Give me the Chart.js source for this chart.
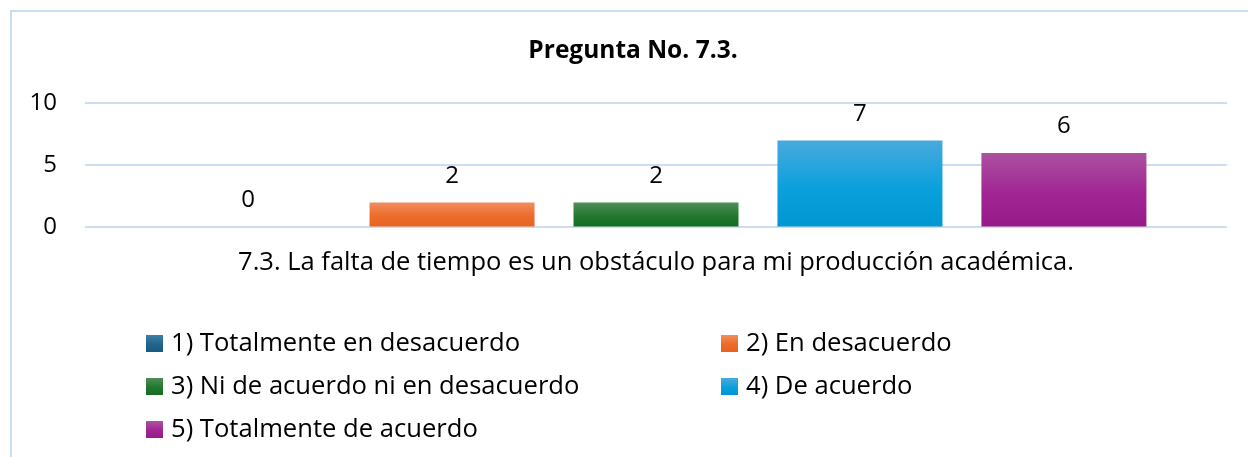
<!DOCTYPE html>
<html lang="es">
<head>
<meta charset="utf-8">
<title>Pregunta No. 7.3.</title>
<script src="https://cdn.jsdelivr.net/npm/chart.js@4.4.1/dist/chart.umd.min.js"></script>
<style>
  html, body { margin: 0; padding: 0; background: #fff; overflow: hidden; }
  body { width: 1248px; height: 457px; position: relative; }
  .marco   { position: absolute; left: 10px; top: 10px; width: 1300px; height: 500px; border: 2px solid #CADCF1; }
  .grafico { position: absolute; left: 12px; top: 12px; width: 1242px; height: 445px; }
</style>
</head>
<body>
<div class="marco"></div>
<div class="grafico"><canvas id="graficoPregunta"></canvas></div>
<script>
// === DATOS =================================================================
const titulo     = 'Pregunta No. 7.3.';
const categorias = ['7.3. La falta de tiempo es un obstáculo para mi producción académica.'];
const respuestas = [
  '1) Totalmente en desacuerdo',
  '2) En desacuerdo',
  '3) Ni de acuerdo ni en desacuerdo',
  '4) De acuerdo',
  '5) Totalmente de acuerdo'
];
const valores = [0, 2, 2, 7, 6];
const ticksY  = [0, 5, 10];

// colores tipo Excel (degradado: arriba / medio / abajo)
const coloresArriba = ['#3C7FA8', '#F08D5E', '#4E8E56', '#48AADE', '#AB52A0'];
const coloresMedio  = ['#21648C', '#EC6B2A', '#23772F', '#0AA0DC', '#A12593'];
const coloresAbajo  = ['#1A5A80', '#E8621F', '#146C21', '#0096D1', '#961B88'];

// === HELPERS ===============================================================
function degradado(ctx, i, yTop, yBase) {
  const g = ctx.createLinearGradient(0, yTop, 0, yBase);
  g.addColorStop(0, coloresArriba[i]);
  g.addColorStop(0.55, coloresMedio[i]);
  g.addColorStop(1, coloresAbajo[i]);
  return g;
}

function colorBarra(context, i) {
  const { chart } = context;
  if (!chart.chartArea || context.raw === undefined) return coloresMedio[i];
  const y = chart.scales.y;
  const yBase = y.getPixelForValue(0);
  const yTop  = y.getPixelForValue(context.raw);
  if (Math.abs(yBase - yTop) < 1) return coloresMedio[i];
  return degradado(chart.ctx, i, yTop, yBase);
}

// etiquetas de valor encima de cada barra
const etiquetasValor = {
  id: 'etiquetasValor',
  afterDatasetsDraw(chart) {
    const { ctx } = chart;
    ctx.save();
    ctx.font = '24px "Open Sans"';
    ctx.fillStyle = '#000';
    ctx.textAlign = 'center';
    ctx.textBaseline = 'alphabetic';
    chart.data.datasets.forEach((ds, i) => {
      const barra = chart.getDatasetMeta(i).data[0];
      ctx.fillText(String(ds.data[0]), barra.x, barra.y - 20);
    });
    ctx.restore();
  }
};

// leyenda en dos columnas (como en Excel)
const leyendaColumnas = {
  id: 'leyendaColumnas',
  afterDraw(chart) {
    const { ctx } = chart;
    const colX  = [134, 709];
    const filaY = [331.5, 374.5, 417.5];
    const lado  = 17;
    ctx.save();
    ctx.font = '25.6px "Open Sans"';
    ctx.textAlign = 'left';
    ctx.textBaseline = 'middle';
    chart.data.datasets.forEach((ds, i) => {
      const x = colX[i % 2];
      const y = filaY[Math.floor(i / 2)];
      ctx.fillStyle = degradado(ctx, i, y - lado / 2, y + lado / 2);
      ctx.fillRect(x, y - lado / 2, lado, lado);
      ctx.fillStyle = '#000';
      ctx.fillText(ds.label, x + lado + 8, y);
    });
    ctx.restore();
  }
};

// === GRAFICO ===============================================================
Chart.defaults.font.family = '"Open Sans", sans-serif';
Chart.defaults.color = '#000';

const grafico = new Chart(document.getElementById('graficoPregunta'), {
  type: 'bar',
  data: {
    labels: categorias,
    datasets: respuestas.map((label, i) => ({
      label,
      data: [valores[i]],
      backgroundColor: ctx => colorBarra(ctx, i),
      borderWidth: 0,
      categoryPercentage: 0.893,
      barPercentage: 0.809
    }))
  },
  options: {
    responsive: true,
    maintainAspectRatio: false,
    animation: false,
    layout: { padding: { top: 0, left: 0, right: 0, bottom: 159 } },
    plugins: {
      legend: { display: false },
      tooltip: { enabled: false },
      title: {
        display: true,
        text: titulo,
        color: '#000',
        font: { size: 24.5, weight: 'bold' },
        padding: { top: 24, bottom: 38 }
      }
    },
    scales: {
      x: {
        grid: { display: false, drawTicks: false },
        border: { display: false },
        ticks: { padding: 20, font: { size: 25.5 }, color: '#000', maxRotation: 0 }
      },
      y: {
        min: 0,
        max: 10,
        afterBuildTicks: s => { s.ticks = ticksY.map(v => ({ value: v })); },
        afterFit: s => { s.width = 73; },
        border: { display: false },
        grid: { color: '#CCDDF1', lineWidth: 2, drawTicks: false },
        ticks: { padding: 28, font: { size: 24 }, color: '#000' }
      },
      // margen derecho vacío (deja el título centrado en el marco)
      margenDer: {
        type: 'linear',
        position: 'right',
        afterFit: s => { s.width = 27; },
        grid: { display: false, drawTicks: false },
        border: { display: false },
        ticks: { display: false }
      }
    }
  },
  plugins: [etiquetasValor, leyendaColumnas]
});
</script>
</body>
</html>
